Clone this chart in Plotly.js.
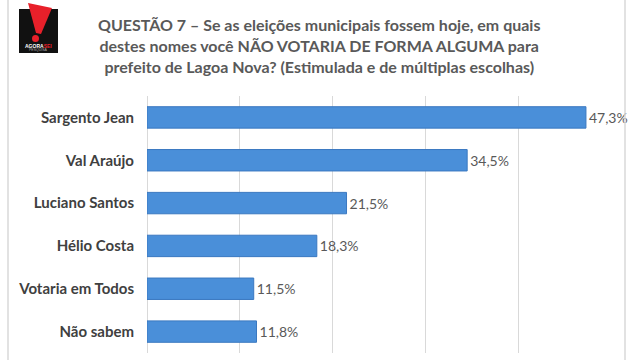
<!DOCTYPE html>
<html><head><meta charset="utf-8">
<script src="https://cdn.plot.ly/plotly-3.0.1.min.js"></script>
<style>html,body{margin:0;padding:0;background:#fff}</style>
</head><body><div id="chart" style="width:630px;height:360px"></div>
<script>
const categories = ["Sargento Jean","Val Araújo","Luciano Santos","Hélio Costa","Votaria em Todos","Não sabem"];
const values = [47.3, 34.5, 21.5, 18.3, 11.5, 11.8];
const valueLabels = ["47,3%","34,5%","21,5%","18,3%","11,5%","11,8%"];
const titleText = "QUESTÃO 7 – Se as eleições municipais fossem hoje, em quais<br>destes nomes você NÃO VOTARIA DE FORMA ALGUMA para<br>prefeito de Lagoa Nova? (Estimulada e de múltiplas escolhas)";

const L=147, R=611, T=96, B=353;
const px = x => (x-L)/(R-L);
const py = y => (B-y)/(B-T);

const trace = {
  type:'bar', orientation:'h',
  y: categories, x: values,
  text: valueLabels, textposition:'outside', cliponaxis:false,
  textfont:{family:'Lato, sans-serif', size:14, color:'#595959'},
  marker:{color:'#4a8fd9', line:{color:'#3a78c0', width:1}},
  width:0.5, hoverinfo:'none'
};

const shapes = [
  {type:'line', xref:'paper', yref:'paper', x0:px(8), x1:px(8), y0:py(0), y1:py(360), line:{color:'#d9d9d9', width:1.5}},
  {type:'line', xref:'paper', yref:'paper', x0:px(625), x1:px(625), y0:py(0), y1:py(360), line:{color:'#d9d9d9', width:1.5}},
  {type:'rect', xref:'paper', yref:'paper', x0:px(19), x1:px(58), y0:py(9), y1:py(53), fillcolor:'#111', line:{width:0}},
  {type:'path', xref:'paper', yref:'paper',
   path:`M ${px(28)} ${py(3)} L ${px(52)} ${py(8)} L ${px(41)} ${py(34)} L ${px(36)} ${py(33)} Z`,
   fillcolor:'#e8202a', line:{width:0}},
  {type:'circle', xref:'paper', yref:'paper', x0:px(32), x1:px(39), y0:py(35), y1:py(42), fillcolor:'#e8202a', line:{width:0}}
];

const annotations = [
  {text:titleText, xref:'paper', yref:'paper', x:px(319), y:py(45), xanchor:'center', yanchor:'middle', showarrow:false,
   font:{family:'Lato, sans-serif', size:16, color:'#595959', weight:'bold'}, align:'center'},
  {text:'<b>AGORA<span style="color:#e8202a">SEI</span></b>', xref:'paper', yref:'paper', x:px(38.5), y:py(45.5), xanchor:'center', yanchor:'middle', showarrow:false,
   font:{family:'Liberation Sans, sans-serif', size:5, color:'#ffffff'}},
  {text:'PESQUISA', xref:'paper', yref:'paper', x:px(38.5), y:py(50.5), xanchor:'center', yanchor:'middle', showarrow:false,
   font:{family:'Liberation Sans, sans-serif', size:3.5, color:'#aaaaaa'}}
];

const layout = {
  width:630, height:360,
  margin:{l:L, r:630-R, t:T, b:360-B, pad:0},
  paper_bgcolor:'#ffffff', plot_bgcolor:'#ffffff',
  showlegend:false,
  xaxis:{range:[0,50], dtick:10, showgrid:true, gridcolor:'#d9d9d9', gridwidth:1, showticklabels:false, zeroline:true, zerolinecolor:'#d9d9d9', zerolinewidth:1, fixedrange:true},
  yaxis:{autorange:'reversed', showgrid:false, zeroline:false, ticks:'', ticklabelstandoff:12, showline:false,
    tickfont:{family:'Lato, sans-serif', size:15, color:'#404040', weight:'bold'}, fixedrange:true},
  shapes, annotations
};
Plotly.newPlot('chart',[trace],layout,{displayModeBar:false, staticPlot:true});
</script></body></html>
